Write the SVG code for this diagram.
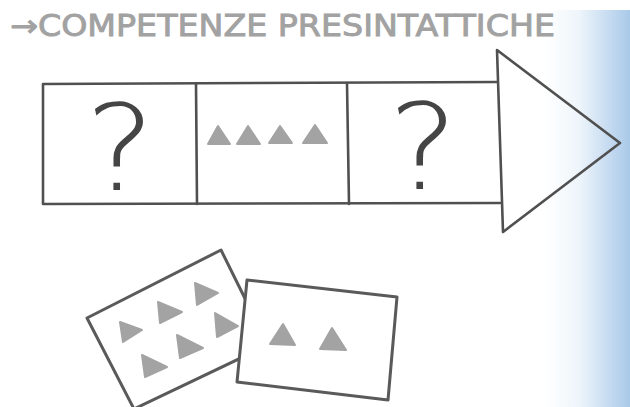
<svg xmlns="http://www.w3.org/2000/svg" width="630" height="407" viewBox="0 0 630 407">
  <defs>
    <linearGradient id="bg" x1="0" y1="0" x2="1" y2="0">
      <stop offset="0" stop-color="#ffffff"/>
      <stop offset="0.4" stop-color="#eef5fb"/>
      <stop offset="1" stop-color="#a9c9e9"/>
    </linearGradient>
    <style>
      .ln { fill: none; stroke: #505050; stroke-width: 2.6; stroke-linejoin: round; stroke-linecap: round; }
      .card { fill: #ffffff; stroke: #5a5a5a; stroke-width: 3; stroke-linejoin: round; }
      .tri { fill: #a3a3a3; stroke: #a3a3a3; stroke-width: 2; stroke-linejoin: round; }
      .q { font-family: "DejaVu Sans", "Liberation Sans", sans-serif; font-weight: 200; font-size: 120px; fill: #454545; text-anchor: middle; }
      .title { font-family: "DejaVu Sans", "Liberation Sans", sans-serif; font-size: 30px; fill: #a2a2a2; stroke: #a2a2a2; stroke-width: 0.9; }
    </style>
  </defs>
  <rect x="0" y="0" width="630" height="407" fill="#ffffff"/>
  <rect x="545" y="10" width="85" height="397" fill="url(#bg)"/>

  <text class="title" x="10" y="36" textLength="545" lengthAdjust="spacingAndGlyphs">→COMPETENZE PRESINTATTICHE</text>

  <g id="arrow">
    <polyline class="ln" points="497,82 43,84 43,204 500,203"/>
    <line class="ln" x1="196" y1="84" x2="197" y2="204"/>
    <line class="ln" x1="347" y1="83" x2="349" y2="204"/>
    <polygon class="ln" points="497,50 620,143 503,232"/>
  </g>

  <g id="cell1">
    <text class="q" transform="translate(120,190) scale(1.1,1)" x="0" y="0">?</text>
  </g>
  <g id="cell2">
    <polygon class="tri" points="218,126 208,144 230,144"/>
    <polygon class="tri" points="248,126 237,144 260,144"/>
    <polygon class="tri" points="280,126 269,143 292,143"/>
    <polygon class="tri" points="315,125 303,143 327,143"/>
  </g>
  <g id="cell3">
    <text class="q" transform="translate(423,189) scale(1.1,1)" x="0" y="0">?</text>
  </g>

  <g id="card1">
    <polygon class="card" points="87,318 221,250 268,345 134,409"/>
    <polygon class="tri" points="195,283 197,305 218,293"/>
    <polygon class="tri" points="158,302 160,323 182,312"/>
    <polygon class="tri" points="120,322 123,342 142,330"/>
    <polygon class="tri" points="215,313 217,337 238,326"/>
    <polygon class="tri" points="177,335 180,358 203,348"/>
    <polygon class="tri" points="142,355 145,377 167,367"/>
  </g>

  <g id="card2">
    <polygon class="card" points="247,280 397,297 388,400 237,382"/>
    <polygon class="tri" points="283,324 270,344 295,345"/>
    <polygon class="tri" points="332,328 320,349 346,350"/>
  </g>
</svg>
